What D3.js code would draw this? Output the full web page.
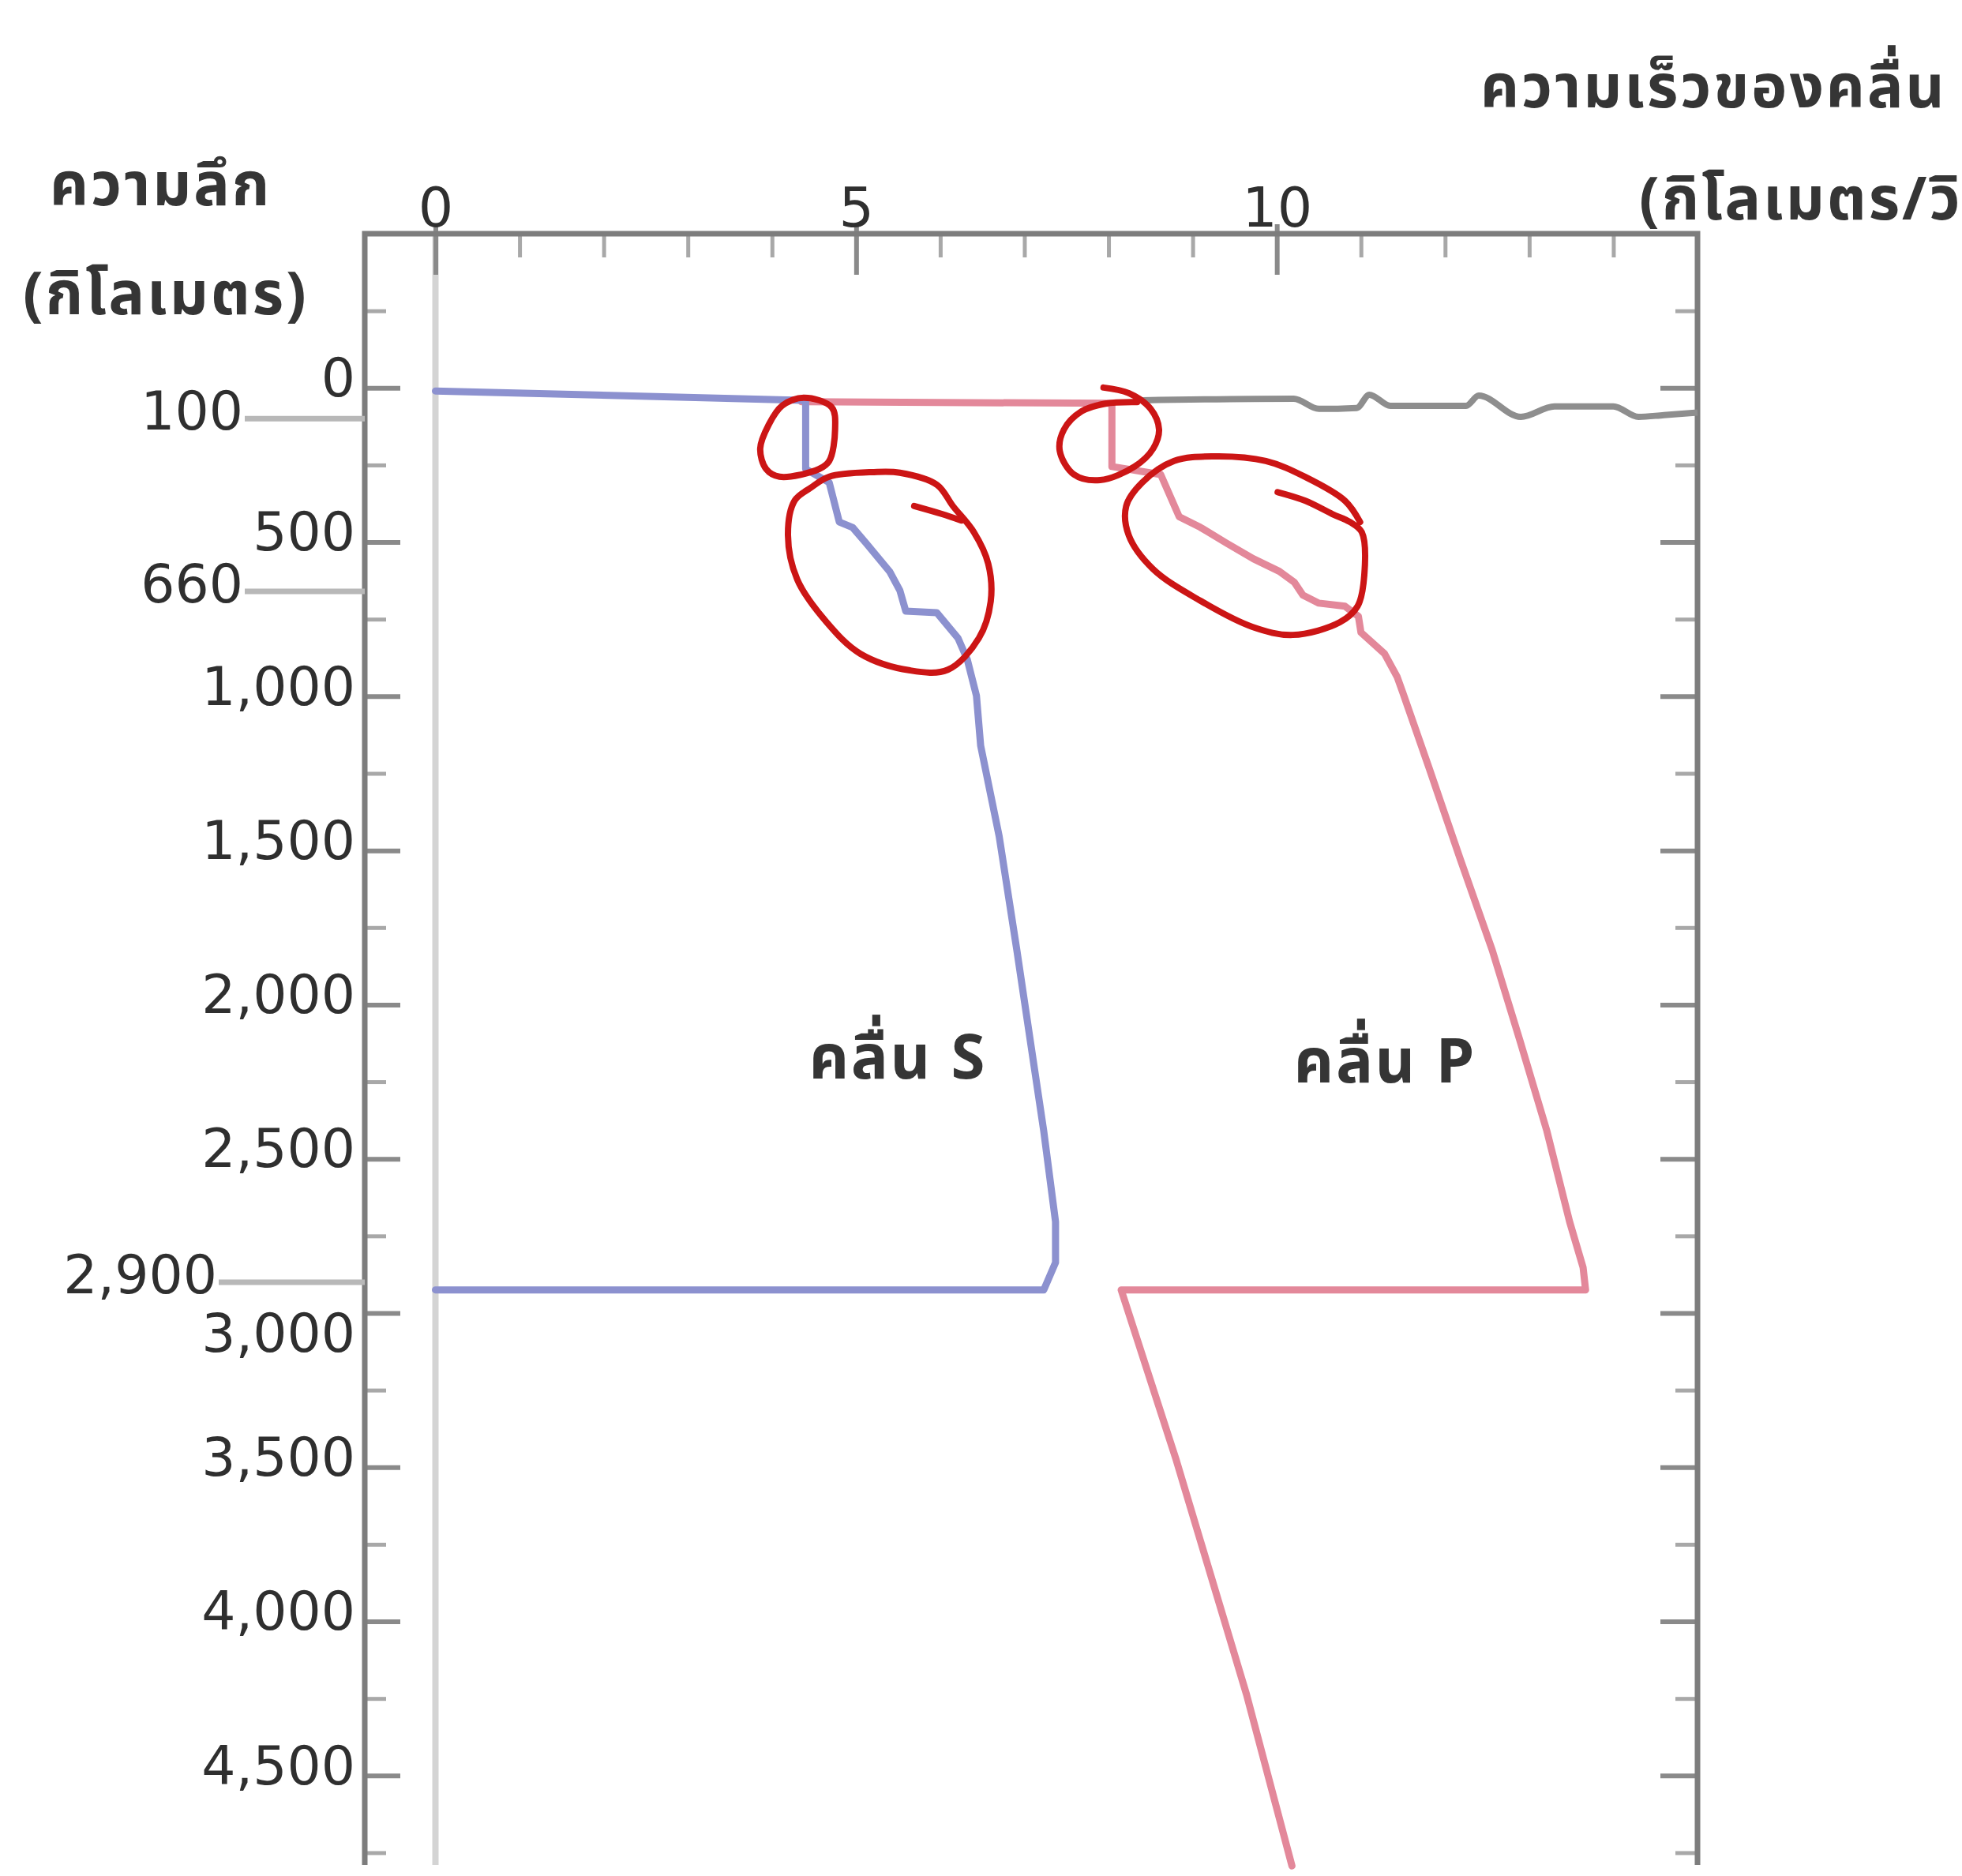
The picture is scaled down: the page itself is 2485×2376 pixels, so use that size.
<!DOCTYPE html>
<html>
<head>
<meta charset="utf-8">
<script src="https://cdn.jsdelivr.net/npm/d3@7"></script>
<style>
  body { margin: 0; background: #fff; }
  svg { display: block; }
  .num { font-family: "DejaVu Sans", Verdana, sans-serif; fill: #2f2f2f; }
  .thai { font-family: Tahoma, "Noto Sans Thai", "Noto Sans", "DejaVu Sans", sans-serif; fill: #353535; font-weight: bold; }
</style>
</head>
<body>
<script>
// Seismic wave velocity (km/s) against depth (km)
const velocityMajor = [0, 5, 10];
const velocityMinor = [1, 2, 3, 4, 6, 7, 8, 9, 11, 12, 13, 14];
const depthMajor = [0, 500, 1000, 1500, 2000, 2500, 3000, 3500, 4000, 4500];
const depthMinor = [-250, 250, 750, 1250, 1750, 2250, 2750, 3250, 3750, 4250, 4750];

// Boundary depths marked beside the depth axis
const boundaryDepths = [100, 660, 2900];
const boundaryLabels = ["100", "660", "2,900"];

// S wave: [velocity, depth]
const sWave = [
  [0, 10], [4.35, 40], [4.40, 45], [4.40, 263], [4.68, 307], [4.80, 435], [4.96, 453],
  [5.12, 504], [5.40, 596], [5.52, 657], [5.59, 724], [5.96, 729], [6.21, 811],
  [6.32, 880], [6.43, 998], [6.48, 1160], [6.70, 1454], [6.91, 1823], [7.07, 2117],
  [7.23, 2410], [7.37, 2704], [7.37, 2836], [7.23, 2925], [0, 2925]
];

// P wave: [velocity, depth]
const pWave = [
  [4.35, 45], [8.04, 50], [8.04, 255], [8.62, 281], [8.84, 418], [9.09, 452], [9.40, 503],
  [9.72, 554], [10.03, 595], [10.21, 631], [10.31, 672], [10.50, 698], [10.81, 708],
  [10.97, 741], [11.0, 793], [11.28, 862], [11.43, 937], [11.5, 990], [11.81, 1233],
  [12.18, 1528], [12.56, 1823], [12.89, 2117], [13.21, 2410], [13.48, 2704],
  [13.64, 2852], [13.67, 2925], [8.15, 2925], [8.80, 3473], [9.22, 3855],
  [9.64, 4237], [10.18, 4793]
];

// Rough surface trace near the top
const surfaceTrace = [
  [8.4, 40], [10.2, 35], [10.5, 68], [10.95, 65], [11.1, 22], [11.35, 58], [12.25, 58],
  [12.4, 25], [12.9, 94], [13.3, 60], [14.0, 60], [14.3, 94], [14.6, 88], [15.0, 80]
];

// Hand-drawn rings around the low-velocity zones
const ringSUpper = [[4.38, 32], [4.71, 63], [4.75, 134], [4.68, 237], [4.56, 263], [4.09, 288],
  [3.93, 263], [3.86, 197], [3.96, 120], [4.12, 58]];
const ringSLower = [[4.68, 288], [5.21, 273], [5.52, 275], [5.96, 314], [6.15, 383], [6.40, 468],
  [6.57, 570], [6.60, 691], [6.46, 811], [6.09, 914], [5.64, 916], [5.05, 862], [4.65, 760],
  [4.30, 621], [4.19, 478], [4.27, 365], [4.46, 324]];
const ringSLowerTail = [[5.69, 383], [6.02, 409], [6.25, 430]];
const ringPUpper = [[7.94, -1], [8.24, 17], [8.50, 68], [8.60, 135], [8.53, 197], [8.31, 255],
  [7.90, 299], [7.59, 281], [7.42, 204], [7.47, 135], [7.68, 76], [7.96, 51], [8.34, 46]];
const ringPLower = [[10.01, 338], [10.34, 366], [10.66, 409], [10.87, 435], [11.01, 468],
  [11.04, 606], [10.96, 708], [10.75, 760], [10.19, 801], [9.71, 775], [9.09, 690],
  [8.53, 588], [8.24, 478], [8.21, 383], [8.40, 307], [8.78, 237], [9.25, 222],
  [9.87, 237], [10.34, 289], [10.81, 366], [10.99, 435]];

const curveLabels = [
  { text: "คลื่น S", v: 5.5, d: 2240 },
  { text: "คลื่น P", v: 11.29, d: 2252 }
];

const W = 2485, H = 2376;
const svg = d3.select("body").append("svg").attr("width", W).attr("height", H);

const x = d3.scaleLinear().domain([-0.84, 15]).range([462, 2150]);
const y = d3.scaleLinear().domain([-500, 4800]).range([296, 2366]);
const yBottom = 2362;

const axisColor = "#7d7d7d";

// zero-velocity guide
svg.append("line")
  .attr("x1", x(0)).attr("x2", x(0))
  .attr("y1", y(-500)).attr("y2", yBottom)
  .attr("stroke", "#d4d4d4").attr("stroke-width", 8);

// top velocity axis
const gTopMinor = svg.append("g").attr("transform", `translate(0,${y(-500)})`)
  .call(d3.axisTop(x).tickValues(velocityMinor).tickSizeInner(-30).tickSizeOuter(0).tickFormat(""));
const gTop = svg.append("g").attr("transform", `translate(0,${y(-500)})`)
  .call(d3.axisTop(x).tickValues(velocityMajor).tickSizeInner(-52).tickSizeOuter(0).tickPadding(9));
gTop.selectAll(".tick line").attr("y1", -12);
gTop.selectAll(".tick text").attr("class", "num").attr("font-size", 70).attr("fill", "#2f2f2f");

// left depth axis
const gLeftMinor = svg.append("g").attr("transform", `translate(${x.range()[0]},0)`)
  .call(d3.axisLeft(y).tickValues(depthMinor).tickSizeInner(-27).tickSizeOuter(0).tickFormat(""));
const gLeft = svg.append("g").attr("transform", `translate(${x.range()[0]},0)`)
  .call(d3.axisLeft(y).tickValues(depthMajor).tickSizeInner(-45).tickSizeOuter(0)
    .tickPadding(12).tickFormat(d3.format(",")));
gLeft.selectAll(".tick text").attr("class", "num").attr("font-size", 68).attr("fill", "#2f2f2f")
  .attr("dy", "0.15em");
gLeft.selectAll(".tick text").filter(d => d === 3000).attr("dy", "0.72em");

// right depth axis
const gRightMinor = svg.append("g").attr("transform", `translate(${x.range()[1]},0)`)
  .call(d3.axisRight(y).tickValues(depthMinor).tickSizeInner(-28).tickSizeOuter(0).tickFormat(""));
const gRight = svg.append("g").attr("transform", `translate(${x.range()[1]},0)`)
  .call(d3.axisRight(y).tickValues(depthMajor).tickSizeInner(-47).tickSizeOuter(0).tickFormat(""));

[gTopMinor, gTop, gLeftMinor, gLeft, gRightMinor, gRight].forEach(g => {
  g.select(".domain").remove();
  g.selectAll(".tick line").attr("stroke", "#8a8a8a").attr("stroke-width", 6);
});
[gTopMinor, gLeftMinor, gRightMinor].forEach(g =>
  g.selectAll(".tick line").attr("stroke", "#a8a8a8").attr("stroke-width", 5));

// frame lines
svg.append("path")
  .attr("d", `M${x.range()[0]},${yBottom}V${y(-500)}H${x.range()[1]}V${yBottom}`)
  .attr("fill", "none").attr("stroke", axisColor).attr("stroke-width", 7);

// boundary markers on the depth axis
const leaderLen = [152, 152, 185];
boundaryDepths.forEach((d, i) => {
  const x1 = x.range()[0] - leaderLen[i];
  svg.append("line")
    .attr("x1", x1).attr("x2", x.range()[0])
    .attr("y1", y(d)).attr("y2", y(d))
    .attr("stroke", "#b8b8b8").attr("stroke-width", 7);
  svg.append("text").attr("class", "num")
    .attr("x", x1 - 2).attr("y", y(d)).attr("dy", "0.2em")
    .attr("text-anchor", "end").attr("font-size", 68)
    .text(boundaryLabels[i]);
});

const line = d3.line().x(d => x(d[0])).y(d => y(d[1]));

svg.append("path").datum(surfaceTrace)
  .attr("d", line.curve(d3.curveMonotoneX)).attr("fill", "none")
  .attr("stroke", "#8e8e8e").attr("stroke-width", 8).attr("stroke-linejoin", "round");
line.curve(d3.curveLinear);

svg.append("path").datum(pWave)
  .attr("d", line).attr("fill", "none")
  .attr("stroke", "#e3889a").attr("stroke-width", 9)
  .attr("stroke-linejoin", "round").attr("stroke-linecap", "round");

svg.append("path").datum(sWave)
  .attr("d", line).attr("fill", "none")
  .attr("stroke", "#8c91cf").attr("stroke-width", 9)
  .attr("stroke-linejoin", "round").attr("stroke-linecap", "round");

// rings
const closedRing = d3.line().x(d => x(d[0])).y(d => y(d[1])).curve(d3.curveCatmullRomClosed);
const openRing = d3.line().x(d => x(d[0])).y(d => y(d[1])).curve(d3.curveCatmullRom);
const ringStyle = sel => sel.attr("fill", "none").attr("stroke", "#cc1515")
  .attr("stroke-width", 8).attr("stroke-linejoin", "round").attr("stroke-linecap", "round");
svg.append("path").datum(ringSUpper).attr("d", closedRing).call(ringStyle);
svg.append("path").datum(ringSLower).attr("d", closedRing).call(ringStyle);
svg.append("path").datum(ringSLowerTail).attr("d", openRing).call(ringStyle);
svg.append("path").datum(ringPUpper).attr("d", openRing).call(ringStyle);
svg.append("path").datum(ringPLower).attr("d", openRing).call(ringStyle);

// curve names
svg.selectAll(".curve-label").data(curveLabels).enter().append("text")
  .attr("class", "thai")
  .attr("x", d => x(d.v)).attr("y", d => y(d.d))
  .attr("text-anchor", "middle").attr("font-size", 78).attr("letter-spacing", 3)
  .text(d => d.text);

// axis titles
const titleSize = 76;
svg.append("text").attr("class", "thai").attr("x", 63).attr("y", 260)
  .attr("font-size", titleSize).attr("letter-spacing", 3).text("ความลึก");
svg.append("text").attr("class", "thai").attr("x", 29).attr("y", 398)
  .attr("font-size", titleSize).attr("letter-spacing", 3).text("(กิโลเมตร)");
svg.append("text").attr("class", "thai").attr("x", 1875).attr("y", 136)
  .attr("font-size", titleSize).attr("letter-spacing", 3).text("ความเร็วของคลื่น");
svg.append("text").attr("class", "thai").attr("x", 2076).attr("y", 278)
  .attr("font-size", titleSize).attr("letter-spacing", 3).text("(กิโลเมตร/วินาที)");
</script>
</body>
</html>
